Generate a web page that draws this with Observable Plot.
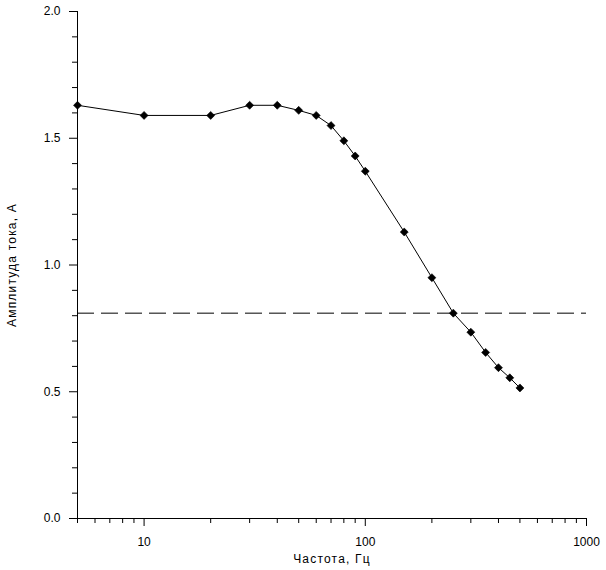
<!DOCTYPE html>
<html>
<head>
<meta charset="utf-8">
<script src="https://cdn.jsdelivr.net/npm/d3@7"></script>
<script src="https://cdn.jsdelivr.net/npm/@observablehq/plot@0.6"></script>
<style>
  html, body { margin: 0; padding: 0; background: #fff; }
  #chart svg { display: block; }
</style>
</head>
<body>
<div id="chart"></div>
<script>
const freq = [5, 10, 20, 30, 40, 50, 60, 70, 80, 90, 100, 150, 200, 250, 300, 350, 400, 450, 500];
const amp = [1.63, 1.59, 1.59, 1.63, 1.63, 1.61, 1.59, 1.55, 1.49, 1.43, 1.37, 1.13, 0.95, 0.81, 0.735, 0.655, 0.595, 0.555, 0.515];
const refLevel = 0.81;
const xMajor = [10, 100, 1000];
const xMinor = [5, 6, 7, 8, 9, 20, 30, 40, 50, 60, 70, 80, 90, 200, 300, 400, 500, 600, 700, 800, 900];
const yMajor = [0, 0.5, 1.0, 1.5, 2.0];
const yMinor = [0.1, 0.2, 0.3, 0.4, 0.6, 0.7, 0.8, 0.9, 1.1, 1.2, 1.3, 1.4, 1.6, 1.7, 1.8, 1.9];
const xLabel = "Частота, Гц";
const yLabel = "Амплитуда тока, А";

const data = freq.map((f, i) => ({f, a: amp[i]}));

const chart = Plot.plot({
  width: 606,
  height: 570,
  marginLeft: 77,
  marginRight: 20,
  marginTop: 11,
  marginBottom: 52,
  style: {fontFamily: "Liberation Sans, Arial, sans-serif", fontSize: "12px", color: "black", background: "white"},
  x: {type: "log", domain: [5, 1000], label: null},
  y: {domain: [0, 2], label: null},
  marks: [
    Plot.axisX({ticks: xMajor, tickSize: 8, tickPadding: 11, tickFormat: d => String(d), label: null, fontSize: 12}),
    Plot.axisX({ticks: xMinor, tickSize: 5, text: null, label: null}),
    Plot.axisY({ticks: yMajor, tickSize: 8, tickPadding: 9, tickFormat: d3.format(".1f"), label: null, fontSize: 12}),
    Plot.axisY({ticks: yMinor, tickSize: 5, text: null, label: null}),
    Plot.ruleY([0], {stroke: "black"}),
    Plot.ruleX([5], {stroke: "black"}),
    Plot.ruleY([refLevel], {stroke: "black", strokeDasharray: "17,7"}),
    Plot.line(data, {x: "f", y: "a", stroke: "black", strokeWidth: 1}),
    Plot.dot(data, {x: "f", y: "a", symbol: "diamond2", r: 3.6, fill: "black", stroke: "black", strokeWidth: 0.6}),
    Plot.text([xLabel], {frameAnchor: "bottom", dy: 41, textAnchor: "middle", lineAnchor: "middle", fontSize: 12, fill: "black"}),
    Plot.text([yLabel], {frameAnchor: "left", dx: -65, rotate: -90, textAnchor: "middle", lineAnchor: "middle", fontSize: 12, fill: "black"})
  ]
});
d3.select(chart).selectAll("text")
  .filter(function() { return this.textContent === xLabel || this.textContent === yLabel; })
  .attr("letter-spacing", "1.2px");
document.getElementById("chart").appendChild(chart);
</script>
</body>
</html>
